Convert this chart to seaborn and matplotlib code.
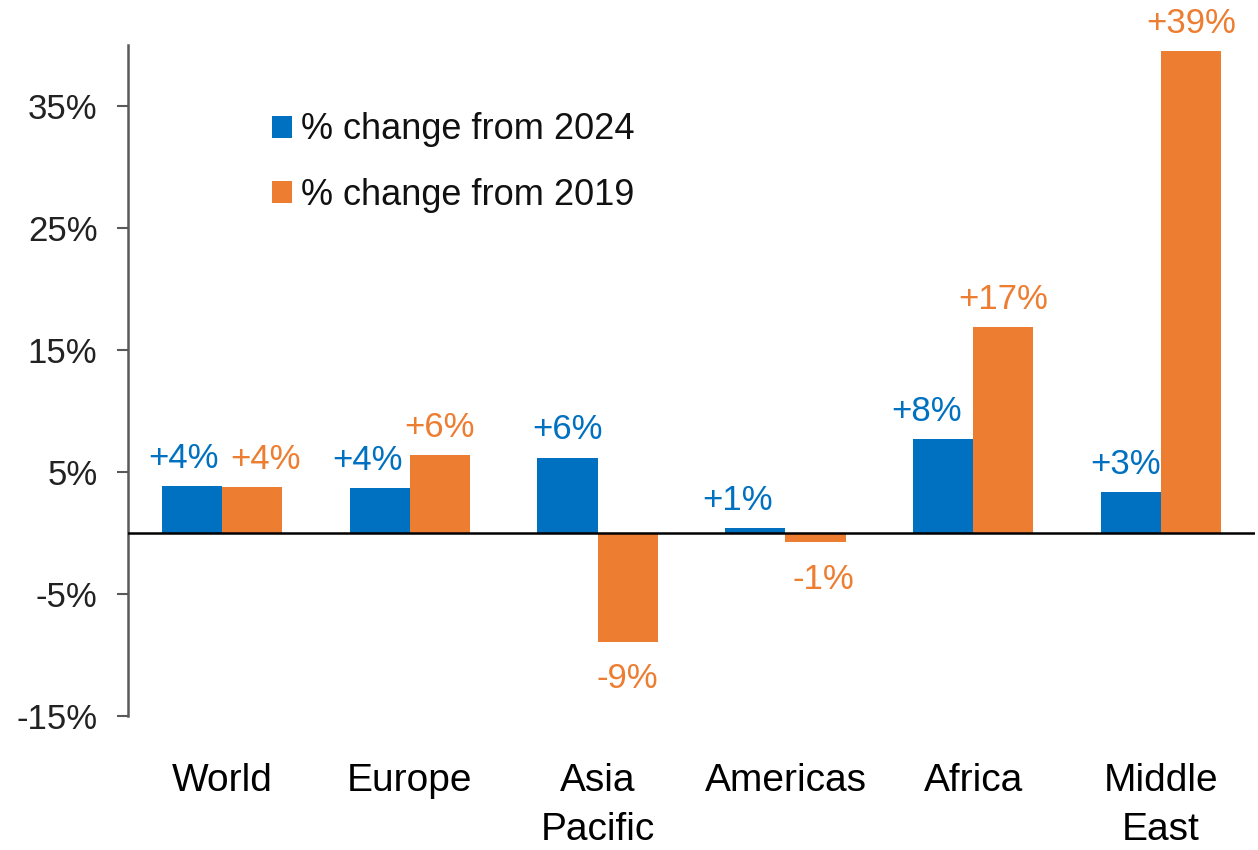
import matplotlib
matplotlib.use("Agg")
import matplotlib.pyplot as plt
from matplotlib.patches import Patch
import seaborn as sns
import pandas as pd

regions = ["World", "Europe", "Asia\nPacific", "Americas", "Africa", "Middle\nEast"]
chg_2024 = [3.9, 3.7, 6.2, 0.4, 7.7, 3.4]
chg_2019 = [3.8, 6.4, -8.9, -0.7, 16.9, 39.5]
labels_2024 = ["+4%", "+4%", "+6%", "+1%", "+8%", "+3%"]
labels_2019 = ["+4%", "+6%", "-9%", "-1%", "+17%", "+39%"]
series = ["% change from 2024", "% change from 2019"]
colors = ["#0070C0", "#ED7D31"]
y_ticks = [-15, -5, 5, 15, 25, 35]

# small sideways nudges (points) of the value labels, as in the original layout
nudge_2024 = [-6, -9, 0, -13, -12, -4]
nudge_2019 = [10, 0, 0, 6, 0, 0]

sns.set_style("white")
plt.rcParams["font.family"] = ["Liberation Sans", "DejaVu Sans"]

df = pd.DataFrame({
    "region": regions * 2,
    "change": chg_2024 + chg_2019,
    "series": [series[0]] * len(regions) + [series[1]] * len(regions),
})

fig = plt.figure(figsize=(12.58, 8.5), dpi=100)
ax = fig.add_axes([0.1017, 0.1576, 0.896, 0.789])

sns.barplot(data=df, x="region", y="change", hue="series", palette=colors,
            width=0.64, saturation=1, linewidth=0, legend=False, ax=ax)

# value labels above / below each bar
for cont, labs, nud, col in zip(ax.containers, [labels_2024, labels_2019],
                                [nudge_2024, nudge_2019], colors):
    for bar, lab, dx in zip(cont, labs, nud):
        h = bar.get_height()
        x = bar.get_x() + bar.get_width() / 2
        if h >= 0:
            ax.annotate(lab, (x, h), xytext=(dx, 13), textcoords="offset points",
                        ha="center", va="baseline", fontsize=25, color=col)
        else:
            ax.annotate(lab, (x, h), xytext=(dx, -15), textcoords="offset points",
                        ha="center", va="top", fontsize=25, color=col)

ax.axhline(0, color="black", lw=1.8, zorder=3)
ax.set_xlim(-0.5, 5.5)
ax.set_ylim(-15, 40)
ax.set_yticks(y_ticks)
ax.set_yticklabels([f"{v}%" for v in y_ticks])
ax.tick_params(axis="y", length=8, width=1.5, color="#595959", pad=14,
               labelsize=25, labelcolor="#222222", left=True)
ax.tick_params(axis="x", length=0, pad=34, labelsize=28, labelcolor="black")
for lab in ax.get_xticklabels():
    lab.set_linespacing(1.45)
ax.set_xlabel("")
ax.set_ylabel("")

for s in ["top", "right", "bottom"]:
    ax.spines[s].set_visible(False)
ax.spines["left"].set_color("#595959")
ax.spines["left"].set_linewidth(1.8)

handles = [Patch(facecolor=c, edgecolor="none") for c in colors]
leg = ax.legend(handles, series, loc="upper left", bbox_to_anchor=(0.128, 0.9),
                frameon=False, fontsize=26, handlelength=0.55, handleheight=0.55,
                handletextpad=0.25, labelspacing=0.85, borderpad=0, borderaxespad=0)
for t in leg.get_texts():
    t.set_color("#111111")

fig.savefig("out.png", dpi=100)
